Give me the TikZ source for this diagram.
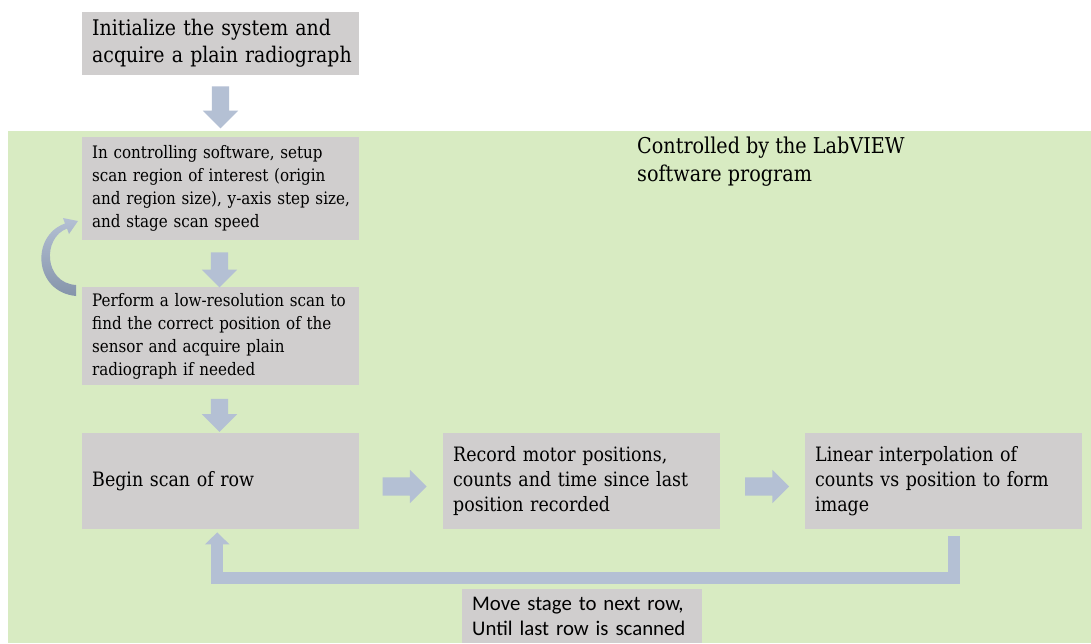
\documentclass[tikz,border=0pt]{standalone}
\usepackage{fontspec}
\setmainfont[FakeStretch=0.88]{DejaVu Serif}
\newfontfamily\labelfont{Carlito}
\usetikzlibrary{shapes.arrows,arrows.meta,calc}

\definecolor{boxgray}{HTML}{D0CECE}
\definecolor{bggreen}{HTML}{D8EBC2}
\definecolor{arrowblue}{HTML}{B4C0D4}
\definecolor{arrowdark}{HTML}{8594AA}

\begin{document}
\begin{tikzpicture}[x=1pt,y=-1pt,
    stepbox/.style={fill=boxgray, anchor=north west, inner xsep=10pt, inner ysep=0pt,
        align=left, minimum width=277pt, text width=257pt},
    downarrow/.style={single arrow, fill=arrowblue, rotate=-90, inner xsep=0pt,
        inner ysep=8.5pt, single arrow head extend=9pt},
    rightarrow/.style={single arrow, fill=arrowblue, inner xsep=0pt, inner ysep=9pt,
        single arrow head extend=7.5pt, minimum height=44pt},
    loopback/.style={draw=arrowblue, line width=12pt, line join=miter,
        -{Triangle[width=24pt,length=12pt]}}]
    \useasboundingbox (0,0) rectangle (1091,643);
    \fill[white] (0,0) rectangle (1091,643);
    \fill[bggreen] (8,131) rectangle (1091,643);

    % steps
    \node[stepbox, minimum height=63pt, font=\fontsize{21.5}{27}\selectfont] (1) at (82,12)
        {Initialize the system and\\\mbox{acquire a plain radiograph}};
    \node[stepbox, minimum height=103pt, font=\fontsize{17.2}{23}\selectfont] (2) at (82,137)
        {In controlling software, setup\\scan region of interest (origin\\\mbox{and region size), y-axis step size,}\\and stage scan speed};
    \node[stepbox, minimum height=98pt, font=\fontsize{17.2}{23}\selectfont] (3) at (82,287)
        {\mbox{Perform a low-resolution scan to}\\find the correct position of the\\sensor and acquire plain\\radiograph if needed};
    \node[stepbox, minimum height=96pt, font=\fontsize{19.8}{25}\selectfont] (4) at (82,433)
        {Begin scan of row};
    \node[stepbox, minimum height=96pt, font=\fontsize{19.8}{25}\selectfont] (5) at (443,433)
        {Record motor positions,\\counts and time since last\\position recorded};
    \node[stepbox, minimum height=96pt, font=\fontsize{19.8}{25}\selectfont] (6) at (805,433)
        {Linear interpolation of\\counts vs position to form\\image};
    \node[fill=boxgray, anchor=north west, inner xsep=10pt, inner ysep=0pt, align=left,
        minimum width=240pt, text width=220pt, minimum height=54pt,
        font=\labelfont\fontsize{20.8}{25}\selectfont] (next) at (462,589)
        {Move stage to next row,\\Until last row is scanned};
    \node[anchor=north west, align=left, inner sep=0pt,
        font=\fontsize{21.8}{28}\selectfont] (ctrl) at (637,137)
        {Controlled by the LabVIEW\\software program};

    % block arrows
    \node[downarrow, minimum height=42pt] (a1) at (220.5,103) {};
    \node[downarrow, minimum height=35pt] (a2) at (219.5,265.5) {};
    \node[downarrow, minimum height=33pt] (a3) at (219.5,411) {};
    \node[rightarrow] (a4) at (400,486.5) {};
    \node[rightarrow] (a5) at (762.5,486.5) {};

    % row loop
    \draw[loopback] ($(6.south)+(10,7)$) |- ($(4.south)+(-3.5,49)$) -- ($(4.south)+(-3.5,3)$);

    % curved arrow back to setup
    \shade[top color=arrowblue, bottom color=arrowdark]
        (76,296) .. controls (34,292) and (30,236) .. (65,223.5)
        -- (63,218) -- (78,221) -- (69,234) -- (67,228.5)
        .. controls (42,238) and (44,283) .. (76,285) -- cycle;
\end{tikzpicture}
\end{document}
